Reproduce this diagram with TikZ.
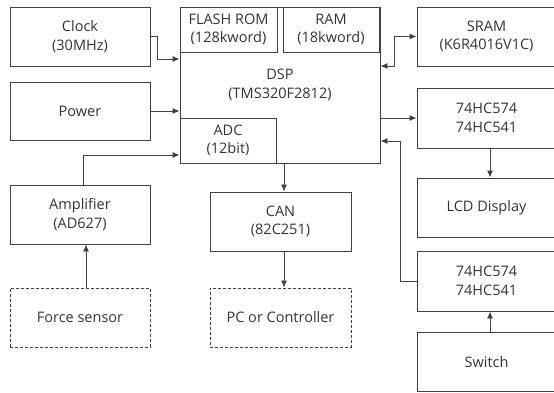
\documentclass[tikz,border=0pt]{standalone}
\usepackage{fontspec}
\setmainfont{Open Sans}
\usetikzlibrary{arrows.meta}
\definecolor{ln}{HTML}{404040}
\definecolor{tx}{HTML}{333333}
\begin{document}
\begin{tikzpicture}[x=1pt,y=-1pt,
  box/.style={draw=ln,line width=0.9pt,inner sep=0pt,align=center,text=tx,
    font=\fontsize{14.5}{18.5}\selectfont},
  dbox/.style={box,dash pattern=on 3pt off 2pt},
  arr/.style={draw=ln,line width=0.9pt,-{Latex[length=7pt,width=6pt]}},
  darr/.style={draw=ln,line width=0.9pt,{Latex[length=7pt,width=6pt]}-{Latex[length=7pt,width=6pt]}}]
\useasboundingbox (0,0) rectangle (554,392);
% left column
\node[box,minimum width=140pt,minimum height=59pt] (clk) at (80,36.5) {Clock\\(30MHz)};
\node[box,minimum width=140pt,minimum height=58pt] (pwr) at (80,111) {Power};
\node[box,minimum width=140pt,minimum height=59pt] (amp) at (80,214.5) {Amplifier\\(AD627)};
\node[dbox,minimum width=140pt,minimum height=59pt] (fs) at (80,317.5) {Force sensor};
% DSP
\node[box,minimum width=200pt,minimum height=156pt] (dsp) at (280,85) {DSP\\(TMS320F2812)};
\node[box,minimum width=97pt,minimum height=45pt] (rom) at (228.5,29.5) {FLASH ROM\\(128kword)};
\node[box,minimum width=96pt,minimum height=45pt] (ram) at (331,29.5) {RAM\\(18kword)};
\node[box,minimum width=96pt,minimum height=45pt] (adc) at (228,140.5) {ADC\\(12bit)};
% middle column
\node[box,minimum width=141pt,minimum height=59pt] (can) at (280.5,221.5) {CAN\\(82C251)};
\node[dbox,minimum width=141pt,minimum height=59pt] (pc) at (280.5,317.5) {PC or Controller};
% right column
\node[box,minimum width=139pt,minimum height=59pt] (sram) at (486.5,36.5) {SRAM\\(K6R4016V1C)};
\node[box,minimum width=139pt,minimum height=60pt] (hca) at (486.5,118) {74HC574\\74HC541};
\node[box,minimum width=139pt,minimum height=59pt] (lcd) at (486.5,207.5) {LCD Display};
\node[box,minimum width=139pt,minimum height=60pt] (hcb) at (486.5,281) {74HC574\\74HC541};
\node[box,minimum width=139pt,minimum height=59pt] (sw) at (486.5,361.8) {Switch};
% connectors
\draw[arr] (clk.east) -- ++(7,0) |- (dsp.west |- 0,59);
\draw[arr] (pwr.east) -- (pwr.east -| dsp.west);
\draw[arr] ([xshift=3pt]amp.north) |- (adc.west |- 0,155);
\draw[arr] ([xshift=6pt]fs.north) -- ([xshift=6pt]amp.south);
\draw[arr] ([xshift=4pt]dsp.south) -- ([xshift=4pt]dsp.south |- can.north);
\draw[arr] ([xshift=3.5pt]can.south) -- ([xshift=3.5pt]pc.north);
\draw[darr] (dsp.east |- 0,66) -- (394,66) |- (sram.west);
\draw[arr] (dsp.east |- hca.west) -- (hca.west);
\draw[arr] ([xshift=3.5pt]hca.south) -- ([xshift=3.5pt]lcd.north);
\draw[arr] (hcb.west) -- (400,281) |- (dsp.east |- 0,141);
\draw[arr] ([xshift=3.5pt]sw.north) -- ([xshift=3.5pt]hcb.south);
\end{tikzpicture}
\end{document}
